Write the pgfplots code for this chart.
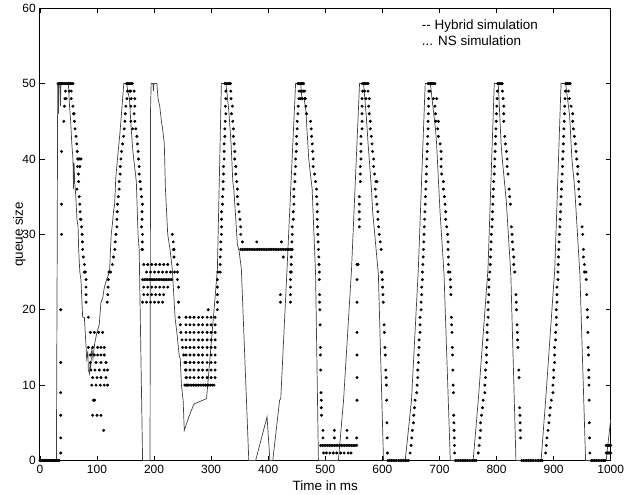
\documentclass[border=0pt]{standalone}
\usepackage{fontspec}
\setmainfont{Liberation Sans}
\usepackage{pgfplots}
\pgfplotsset{compat=1.18}

\begin{document}
\fontsize{12bp}{14bp}\selectfont
\begin{tikzpicture}
\begin{axis}[
    name=ax,
    scale only axis,
    width=573bp, height=454bp,
    xmin=0, xmax=1000, ymin=0, ymax=60,
    xtick={0,100,...,1000}, ytick={0,10,...,60},
    /pgf/number format/assume math mode=true,
    /pgf/number format/set thousands separator={},
    major tick length=5bp,
    tick style={black, line width=0.6bp},
    axis line style={line width=0.8bp},
    xlabel={Time in ms}, ylabel={queue size},
    label style={font=\fontsize{13.5bp}{16bp}\selectfont},
    xlabel style={at={(axis description cs:0.5,-0.055)}, anchor=center},
    ylabel style={at={(axis description cs:-0.036,0.5)}, anchor=center},
    clip=false,
]

% Hybrid simulation (solid line)
\addplot[black!75, line width=0.7bp] coordinates {
(0,0)(29,0)(30.5,30)(31,45)(31.5,50)(32.5,46)(33,50)(35,50)(36,47)(37,50)(50,50)(52,47)(54,45)(56,42)
(58,40)(59,36)(60,39.5)(61,37)(63,35)(65,32)(67,31)(68,28)(70,25)(72,24)(75,19)(78,19)(81,15)(82,13.5)
(84,14.5)(85,12)(87,11.5)(88,13)(89,12)(91,15)(93,13.5)(96,15.5)(100,17)(104,18)(107,21)(110,21.5)
(113,23)(117,24)(122,25)(125,30)(127,31.3)(129,33)(131,34)(133,37.5)(136,40)(140,43.2)(143,46)(147,50)
(152,50)(154,49)(157,48)(160,44)(163,41)(166,39)(169,37)(172,30)(174,28)(180,0)(193,0)(194,47)(195,50)
(198,50)(199,49)(200,50)(205,50)(207,48)(210,47)(213,45)(215,44)(218,42)(220,36)(224,30)(228,28)
(232,25.4)(237,18.8)(240,17)(244,14)(246,13.5)(248,10)(251,8)(253,4)(262,6)(270,7.5)(292,8.2)(303,18)
(311,25.4)(318,50)(326,50)(331,46.4)(335,42)(338,37)(340,35.8)(346,28.7)(349,27.8)(353,25.4)(366,0)
(378,0)(398,5.8)(403,0)(408,0)(420,8)(422,8.2)(433,25.4)(448,50)(457,50)(459,48)(463,48)(466,46.4)
(471,40)(474,38)(477,36)(483,24.7)(488,0)(523,0)(532,8)(546,25.4)(560,50)(567,50)(572,45.5)(575,42)
(577,40)(581,35.8)(583,33)(593,24.7)(602,0)(640,0)(651,8)(663,25.4)(675,50)(684,50)(693,44)(695,42)
(698,37.5)(701,33)(708,24.7)(719,0)(759,0)(768,8)(785,25.4)(796,50)(803,50)(808,42)(810,40)(817,34.5)
(825,24.7)(834,0)(878,0)(886,8)(902,25.4)(913,50)(921,50)(928,45.8)(932,40)(937,36)(946,24.7)(956,0)
(992,0)(1000,5.5)
};

% NS simulation (dots)
\addplot[only marks, mark=*, mark size=1.3bp, black] coordinates {
(0,0)(2,0)(4,0)(6,0)(8,0)(10,0)(12,0)(14,0)(16,0)(18,0)(20,0)(22,0)(24,0)(26,0)(28,0)(30,0)(32,0)(34,0)
(36.6,1)(36.6,3)(36.6,6)(36.6,9)(36.6,13)(36.6,20)(38,30)(38,34)(38,41)
(32,50)(34,50)(36,50)(38,50)(40,50)(42,50)(44,50)(46,50)(48,50)(50,50)(52,50)(54,50)(56,50)(58,50)
(45,49)(52,49)(55,49)(44,48)(46,48)(55,48)(43,47)(58,47)(59,46)(60,46)(42,45)(60.5,45)(61.6,44)
(63.4,43)(64.6,42)(65.5,41)(66.3,40)(68,40)(70,40)(72,40)(66,39)(70,39)(67.5,38)(68,37)(65,36)(69,35)
(70,34)(70.5,33)(71,32)(72,32)(73,31)(74,30)(74.5,29)(75,28)(76,27)(78,26)(79.7,25)(78,25)
(80.9,24)(80.9,23)(80.9,22)(81,21)(85,19)
(88.4,17)(95.4,17)(103,17)(110,17)
(85,15)(92.5,15)(101.2,15)(107,15)(112.8,15)
(88.4,14)(95.4,14)(101.2,14)(107,14)(112.8,14)
(88.4,13)(98.3,13)(107,13)(115.8,13)
(89.5,12)(96.5,12)(104.2,12)(112.8,12)(118.7,12)
(92.5,11)(100.1,11)(107,11)(115.8,11)
(91,10)(98.3,10)(105.9,10)(112.8,10)(118.7,10)
(94,8)(96,8)(92.5,6)(100.1,6)(107,6)(111.7,4)
(118,21)(119,22)(119.5,23)(120,24)(121,25)(124,25)(127,26)(129,27)(131.3,28)(132,29)(133.2,30)(135,31)
(135,32)(135.5,33)(136.1,34)(137.5,35)(139,36)(139,37)(140.8,38)(140.8,39)(142,40)(143.1,41)(144.9,42)
(146.6,43)(147.8,44)(149,45)(149.5,46)(150.7,47)(152.5,48)(153.6,49)
(152,50)(154,50)(156,50)(158,50)(160,50)(162,50)(157,49)(159,49)(160,48)
(165.2,49)(166.4,48)(159.4,47)(166.4,47)(165.2,46)(159.4,45)(166.4,45)(162.3,44)(168.1,44)(169.9,43)
(171,42)(172.2,41)(172.8,40)(174,39)(174,38)(175.7,37)(177,36)(178.1,35)(179.8,34)(179,33)(179,32)
(178.1,31)(179.8,30)(179.5,29)(179.8,28)
(182,26)(189,26)(196,26)(203,26)(210,26)(217,26)(224,26)(241,26)
(187,25)(194,25)(201,25)(208,25)(215,25)(222,25)(229,25)(236,25)(241,25)
(180,24)(183,24)(186,24)(189,24)(192,24)(195,24)(198,24)(201,24)(204,24)(207,24)(210,24)(213,24)
(216,24)(219,24)(222,24)(225,24)(228,24)(231,24)(241,24)
(182,23)(189,23)(196,23)(203,23)(210,23)(217,23)(224,23)(243,23)
(182,22)(189,22)(196,22)(203,22)(210,22)(217,22)
(180,21)(187,21)(194,21)(201,21)(208,21)(215,21)(243,21)
(179,28)(234,28)(232,30)(233.7,29)(235,28)(235,27)
(244,19)(246,18)(247,17)(249,16)(250,15)(252,14)(254,13)(255,12)(257,11)(258,10)
(256,19)(263,19)(270,19)(278,19)(285,19)(293,19)(300,19)(307,19)
(256,18)(263,18)(270,18)(278,18)(285,18)(293,18)(300,18)(307,18)
(256,17)(263,17)(270,17)(278,17)(285,17)(293,17)(300,17)(307,17)
(256,16)(263,16)(270,16)(278,16)(285,16)(293,16)(300,16)(307,16)
(256,15)(263,15)(270,15)(278,15)(285,15)(293,15)(300,15)(307,15)
(256,14)(263,14)(270,14)(278,14)(285,14)(293,14)(300,14)(307,14)
(256,13)(263,13)(270,13)(278,13)(285,13)(293,13)(300,13)(307,13)
(256,12)(263,12)(270,12)(278,12)(285,12)(293,12)(300,12)(307,12)
(256,11)(263,11)(270,11)(278,11)(285,11)(293,11)(300,11)(307,11)
(254,10)(257,10)(260,10)(263,10)(266,10)(269,10)(272,10)(275,10)(278,10)(281,10)(284,10)(287,10)
(290,10)(293,10)(296,10)(299,10)(302,10)(305,10)
(295,20)(311,20)
(311,21)(311,22)(311,23)(311,24)(312,25)(315.9,25)(315.9,26)(315.9,27)(317,28)(317,29)(318.2,30)
(318.2,31)(318.2,32)(318.2,33)(320,34)(320,35)(321.1,36)(321.1,37)(321.7,38)(321.7,39)(322.8,40)
(322.8,41)(322.8,42)(324,43)(324,44)(324.6,45)(325.8,46)(325,47)(325.8,48)(325.8,49)
(324,50)(326,50)(328,50)(330,50)(332,50)(334,50)
(334.5,49)(335,48)(337.4,47)(335.7,46)(338,45)(339.1,44)(339.1,43)(340.3,42)(341.4,41)(341.4,40)
(343.2,39)(343.2,38)(344.9,37)(346,36)(346,35)(347.3,34)(349,33)(350.5,32)(351.9,31)(351.9,30)
(354.8,29)(380,29)(423,29)
(352,28)(355,28)(358,28)(361,28)(364,28)(367,28)(370,28)(373,28)(376,28)(379,28)(382,28)(385,28)
(388,28)(391,28)(394,28)(397,28)(400,28)(403,28)(406,28)(409,28)(412,28)(415,28)(418,28)(421,28)
(424,28)(427,28)(430,28)(433,28)(436,28)(439,28)(442,28)
(426.4,27)(421.4,22)(421.4,21)(439,25)(439,24)(439,23)(439,22)(439,21)
(440.4,25)(440.4,26)(440.4,27)(441,28)(441.5,29)(442.1,30)(442.1,31)(443.9,32)(443.9,33)(445,34)
(445,35)(445,36)(446.8,37)(446.8,38)(448,39)(448,40)(449.1,41)(449.7,42)(449.7,43)(450.8,44)
(450.8,45)(452,46)(452.6,47)(453.8,48)(454,49)
(452,50)(454,50)(456,50)(458,50)(460,50)(462,50)(457,49)(459,49)(462,49)(457,48)(460,48)(464,48)
(464,49)(465,48)(466,47)(467.2,46)(474.2,45)(475.4,44)(476,43)(477.1,42)(478,41)(478.8,40)(478.8,39)
(481.2,38)(482.9,37)(484.7,36)(484.7,35)(485.8,34)(485.8,33)(485.8,32)(486.5,31)(487,30)(487.5,29)
(488,28)(488.7,27)(489,26)(489.5,25)(489.5,24)(490,22)(490,21)(490.5,20)(491,18)(491.5,15)(491.5,14)
(492,12)(492.5,9)(493,8)(493,7)(493.4,6)
(496,4)(516,4)(538,4)(496,3)(516,3)(538,3)(555,3)
(492,2)(495,2)(498,2)(501,2)(504,2)(507,2)(510,2)(513,2)(516,2)(519,2)(522,2)(525,2)(528,2)(531,2)
(534,2)(537,2)(540,2)(543,2)(546,2)(549,2)(552,2)(555,2)
(497,1)(502,1)(508,1)(514,1)(520,1)(527,1)(533,1)(540,1)(545,1)
(555.6,8)(555.6,11)(555.6,14)(555.6,17)(555.6,21)(555.6,24)(555.6,26)
(557.3,26)(559.6,31)(559.6,32)(559.6,33)(559.6,34)(559.6,35)(561.4,37)(561.4,38)(561.4,39)(562.5,40)
(562.5,41)(562.5,42)(562.5,43)(564.4,44)(564.4,45)(564.4,46)(564.4,47)(564.4,48)(565.5,49)
(565,50)(567,50)(569,50)(571,50)(573,50)(575,50)
(568.9,49)(574.8,49)(571.2,48)(577.1,48)(576,47)(577,46)(578.8,45)(578.8,44)(580.6,43)(581.8,42)
(582.9,41)(584.7,40)(584.7,39)(586.4,38)(588.7,37)(590.5,37)(587.6,36)(588.7,35)(590.5,34)(592.2,33)
(592.2,32)(593.5,31)(594.5,30)(596.3,29)(598,28)(599.2,25)
(599,25)(600,24)(600.5,23)(601,22)(601.5,21)(603,18)(603.5,17)(604.5,15)(605,14)(606,12)(606.5,11)
(607,10)(607.5,8)(608,5)(608.5,3)(609,1)
(610,0)(613,0)(616,0)(619,0)(622,0)(625,0)(628,0)(631,0)(634,0)(637,0)(640,0)(643,0)(646,0)
(648.6,1)(650.3,2)(651.5,3)(652.6,4)(654.4,5)(655,6)(656.2,7)(657.3,8)(660.2,9)(660.8,10)(662,11)
(662,12)(663.1,13)(663.1,14)(664.3,15)(664.3,16)(666,17)(666,18)(666,19)(667.8,20)(667.8,21)
(668.9,22)(668.9,23)(670.1,24)(670.1,25)
(671,26)(671.5,27)(672,28)(672.5,29)(673,30)(673.5,31)(674,32)(674.5,33)(675,34)(675.5,35)(676,36)
(676.5,37)(677,38)(677.5,39)(678,40)(678.5,41)(679,42)(679.5,43)(680,44)(680,45)(680.5,46)(681,47)
(681,48)(681.5,49)
(680,50)(682,50)(684,50)(686,50)(688,50)(690,50)(692,50)
(683.5,49)(689.4,48)(695.2,48)(692,47)(693,46)(693.5,45)(698.2,45)(696.9,44)(698.2,43)(701.1,42)
(702.8,41)(703,40)(702.8,39)(703.9,38)(706.8,37)(706.8,36)(708.6,35)(709.8,34)(710.9,33)(710.9,32)
(712.7,31)(714.4,30)(715,29)(715,28)(715.6,27)(715.6,26)(715.6,25)
(718.4,25)(719,24)(719.5,23)(720,22)(721,19)(721.5,18)(722,17)(722.5,15)(723,14)(723.5,12)(724,10)
(724.5,9)(725,6)(725.3,5)(725.6,4)(726,3)(726.3,2)(726.6,1)
(728,0)(731,0)(734,0)(737,0)(740,0)(743,0)(746,0)(749,0)(752,0)(755,0)(758,0)(761,0)(764,0)
(767.9,1)(769.6,2)(770.8,3)(772,4)(772,5)(773.7,6)(775.5,7)(776.6,8)(779.5,9)(779.5,10)(780.7,11)
(780.7,12)(782.5,13)(782.5,14)(782.5,15)(783.6,16)(783.6,17)(783.6,18)(785.3,19)(785.3,20)(785.3,21)
(786.5,22)(786.5,23)(786.5,24)(788.2,25)
(789,26)(789.5,27)(790,28)(790.5,29)(791,30)(792,31)(792.5,32)(793,33)(793.5,34)(794,35)(794.5,36)
(795,37)(796,38)(796.5,39)(797,40)(797.5,41)(798,42)(798.5,43)(799,44)(799.5,45)(800,46)(800.5,47)
(801,48)(801.5,49)
(802,50)(804,50)(806,50)(808,50)(810,50)
(810.3,49)(811.5,48)(812.7,47)(812.7,46)(812.7,45)(814.4,43)(815.6,42)(817.3,41)(818.5,40)(818.5,39)
(820.2,38)(822,36)(823.1,35)(824.3,34)(826.1,31)(827.2,30)(827.8,29)(829,28)(830.2,27)(830.2,26)
(831.9,25)
(834,22)(834.5,21)(835,20)(836,18)(836.5,17)(837,16)(837.5,15)(839,12)(839.5,11)(840.5,7)(841,6)
(841.3,5)(841.6,4)(842,3)
(844,0)(847,0)(850,0)(853,0)(856,0)(859,0)(862,0)(865,0)(868,0)(871,0)(874,0)(877,0)(880,0)
(886,1)(887.2,2)(888.3,3)(890.1,4)(891.8,5)(893,6)(894.2,7)(895.9,8)(898.8,9)(898.8,10)(900,11)
(900,12)(901.7,13)(901.7,14)(901.7,15)(903.5,16)(903.5,17)(904.7,18)(904.7,19)(904.7,20)(905.8,21)
(905.8,22)(905.8,23)(907.6,24)(907.6,25)
(908,26)(908.5,27)(909,28)(909.5,29)(910,30)(911,31)(911.5,32)(912,33)(912.5,34)(913,35)(913.5,36)
(914,37)(915,38)(915.5,39)(916,40)(916.5,41)(917,42)(917.5,43)(918,44)(918.5,45)(919,46)(919.5,47)
(920,48)(920.5,49)
(921,50)(923,50)(925,50)(927,50)(929,50)
(926,49)(927.7,48)(930.6,47)(933.5,46)(933.5,45)(934.7,44)(936.4,43)(938.2,42)(939.3,41)(940.5,40)
(942.2,39)(942.2,38)(944,37)(944,36)(945.2,35)(946.3,34)(949.8,31)(951,30)(952.2,28)(952.2,27)
(953.9,26)(953.9,25)
(956.7,25)(957,24)(958,22)(959,20)(959.5,19)(960,17)(960.5,15)(961,14)(961.5,12)(961.8,11)(962,10)
(962.3,8)(962.5,5)(963,3)(963.5,1)
(966,0)(969,0)(972,0)(975,0)(978,0)(981,0)(984,0)(987,0)(990,0)
(992,2)(994,2)(996,2)(998,2)(1000,2)(992,1)(994,1)(996,1)(998,1)(1000,1)
};

\node[anchor=base west, font=\fontsize{13.5bp}{16bp}\selectfont] at (axis cs:662,57.2) {-{}- Hybrid simulation};
\node[anchor=base west, font=\fontsize{13.5bp}{16bp}\selectfont] at (axis cs:662,55.1) {... NS simulation};
\end{axis}
\path ([xshift=-40bp,yshift=-34bp]ax.south west) rectangle ([xshift=15bp,yshift=8bp]ax.north east);
\end{tikzpicture}
\end{document}
